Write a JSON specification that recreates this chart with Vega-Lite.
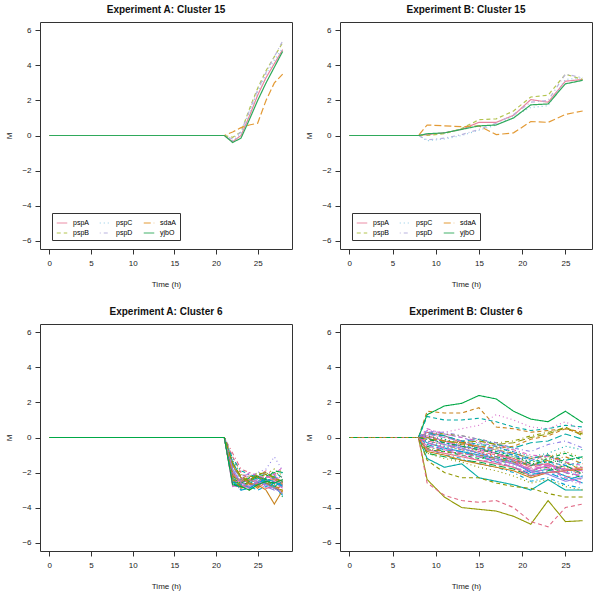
{
"$schema":"https://vega.github.io/schema/vega-lite/v6.json",
"padding":{"left":5,"top":4,"right":5,"bottom":5},
"background":"white",
"config":{
 "font":"Liberation Sans",
 "view":{"stroke":"#333","strokeWidth":1},
 "axis":{"domain":false,"grid":false,"tickColor":"#333","tickSize":5,"labelFontSize":8,"titleFontSize":8,"titleFontWeight":"normal","labelColor":"#222","titleColor":"#222","labelPadding":5},
 "axisX":{"titlePadding":13},
 "axisY":{"titlePadding":8,"labelPadding":4},
 "title":{"fontSize":10,"fontWeight":"bold","offset":7,"color":"#111"},
 "legend":{"labelFontSize":7}
},
"datasets":{
"tA":[
{"g":"pspA","t":0,"m":0},{"g":"pspA","t":21,"m":0},{"g":"pspA","t":22,"m":-0.35},{"g":"pspA","t":23,"m":0.0},{"g":"pspA","t":24,"m":1.1},{"g":"pspA","t":25,"m":2.3},{"g":"pspA","t":26,"m":3.3},{"g":"pspA","t":27,"m":4.1},{"g":"pspA","t":28,"m":4.9},
{"g":"pspB","t":0,"m":0},{"g":"pspB","t":21,"m":0},{"g":"pspB","t":22,"m":-0.1},{"g":"pspB","t":23,"m":0.2},{"g":"pspB","t":24,"m":1.5},{"g":"pspB","t":25,"m":2.7},{"g":"pspB","t":26,"m":3.7},{"g":"pspB","t":27,"m":4.5},{"g":"pspB","t":28,"m":5.3},
{"g":"pspC","t":0,"m":0},{"g":"pspC","t":21,"m":0},{"g":"pspC","t":22,"m":-0.3},{"g":"pspC","t":23,"m":0.1},{"g":"pspC","t":24,"m":1.3},{"g":"pspC","t":25,"m":2.5},{"g":"pspC","t":26,"m":3.5},{"g":"pspC","t":27,"m":4.3},{"g":"pspC","t":28,"m":5.0},
{"g":"pspD","t":0,"m":0},{"g":"pspD","t":21,"m":0},{"g":"pspD","t":22,"m":-0.2},{"g":"pspD","t":23,"m":0.2},{"g":"pspD","t":24,"m":1.4},{"g":"pspD","t":25,"m":2.6},{"g":"pspD","t":26,"m":3.6},{"g":"pspD","t":27,"m":4.5},{"g":"pspD","t":28,"m":5.4},
{"g":"sdaA","t":0,"m":0},{"g":"sdaA","t":21,"m":0},{"g":"sdaA","t":22,"m":0.2},{"g":"sdaA","t":23,"m":0.45},{"g":"sdaA","t":24,"m":0.6},{"g":"sdaA","t":25,"m":0.7},{"g":"sdaA","t":26,"m":2.0},{"g":"sdaA","t":27,"m":3.0},{"g":"sdaA","t":28,"m":3.5},
{"g":"yjbO","t":0,"m":0},{"g":"yjbO","t":21,"m":0},{"g":"yjbO","t":22,"m":-0.4},{"g":"yjbO","t":23,"m":-0.15},{"g":"yjbO","t":24,"m":0.9},{"g":"yjbO","t":25,"m":2.0},{"g":"yjbO","t":26,"m":3.0},{"g":"yjbO","t":27,"m":3.9},{"g":"yjbO","t":28,"m":4.8}
],
"tB":[
{"g":"pspA","t":0,"m":0},{"g":"pspA","t":8,"m":0},{"g":"pspA","t":9,"m":0.05},{"g":"pspA","t":11,"m":0.15},{"g":"pspA","t":13,"m":0.35},{"g":"pspA","t":15,"m":0.75},{"g":"pspA","t":17,"m":0.75},{"g":"pspA","t":19,"m":1.15},{"g":"pspA","t":21,"m":2.05},{"g":"pspA","t":23,"m":1.9},{"g":"pspA","t":25,"m":3.1},{"g":"pspA","t":27,"m":3.2},
{"g":"pspB","t":0,"m":0},{"g":"pspB","t":8,"m":0},{"g":"pspB","t":9,"m":0.0},{"g":"pspB","t":11,"m":0.1},{"g":"pspB","t":13,"m":0.4},{"g":"pspB","t":15,"m":0.9},{"g":"pspB","t":17,"m":0.95},{"g":"pspB","t":19,"m":1.4},{"g":"pspB","t":21,"m":2.2},{"g":"pspB","t":23,"m":2.3},{"g":"pspB","t":25,"m":3.5},{"g":"pspB","t":27,"m":3.2},
{"g":"pspC","t":0,"m":0},{"g":"pspC","t":8,"m":0},{"g":"pspC","t":9,"m":-0.3},{"g":"pspC","t":11,"m":-0.2},{"g":"pspC","t":13,"m":0.0},{"g":"pspC","t":15,"m":0.3},{"g":"pspC","t":17,"m":0.6},{"g":"pspC","t":19,"m":1.1},{"g":"pspC","t":21,"m":1.6},{"g":"pspC","t":23,"m":1.7},{"g":"pspC","t":25,"m":3.2},{"g":"pspC","t":27,"m":3.3},
{"g":"pspD","t":0,"m":0},{"g":"pspD","t":8,"m":0},{"g":"pspD","t":9,"m":-0.25},{"g":"pspD","t":11,"m":-0.15},{"g":"pspD","t":13,"m":0.05},{"g":"pspD","t":15,"m":0.35},{"g":"pspD","t":17,"m":0.7},{"g":"pspD","t":19,"m":1.2},{"g":"pspD","t":21,"m":1.9},{"g":"pspD","t":23,"m":2.0},{"g":"pspD","t":25,"m":3.5},{"g":"pspD","t":27,"m":3.3},
{"g":"sdaA","t":0,"m":0},{"g":"sdaA","t":8,"m":0},{"g":"sdaA","t":9,"m":0.6},{"g":"sdaA","t":11,"m":0.55},{"g":"sdaA","t":13,"m":0.5},{"g":"sdaA","t":15,"m":0.55},{"g":"sdaA","t":17,"m":0.05},{"g":"sdaA","t":19,"m":0.15},{"g":"sdaA","t":21,"m":0.8},{"g":"sdaA","t":23,"m":0.75},{"g":"sdaA","t":25,"m":1.2},{"g":"sdaA","t":27,"m":1.4},
{"g":"yjbO","t":0,"m":0},{"g":"yjbO","t":8,"m":0},{"g":"yjbO","t":9,"m":0.1},{"g":"yjbO","t":11,"m":0.15},{"g":"yjbO","t":13,"m":0.35},{"g":"yjbO","t":15,"m":0.55},{"g":"yjbO","t":17,"m":0.6},{"g":"yjbO","t":19,"m":1.0},{"g":"yjbO","t":21,"m":1.75},{"g":"yjbO","t":23,"m":1.8},{"g":"yjbO","t":25,"m":2.95},{"g":"yjbO","t":27,"m":3.15}
],
"bA":[
{"g":"a01","t":0,"m":0},{"g":"a01","t":21,"m":0},{"g":"a01","t":22,"m":-2.0},{"g":"a01","t":23,"m":-2.6},{"g":"a01","t":24,"m":-2.4},{"g":"a01","t":25,"m":-2.2},{"g":"a01","t":26,"m":-2.5},{"g":"a01","t":27,"m":-2.3},{"g":"a01","t":28,"m":-2.8},
{"g":"a02","t":0,"m":0},{"g":"a02","t":21,"m":0},{"g":"a02","t":22,"m":-2.4},{"g":"a02","t":23,"m":-2.9},{"g":"a02","t":24,"m":-2.7},{"g":"a02","t":25,"m":-2.5},{"g":"a02","t":26,"m":-2.6},{"g":"a02","t":27,"m":-2.9},{"g":"a02","t":28,"m":-3.1},
{"g":"a03","t":0,"m":0},{"g":"a03","t":21,"m":0},{"g":"a03","t":22,"m":-1.3},{"g":"a03","t":23,"m":-2.1},{"g":"a03","t":24,"m":-2.3},{"g":"a03","t":25,"m":-2.0},{"g":"a03","t":26,"m":-2.1},{"g":"a03","t":27,"m":-1.8},{"g":"a03","t":28,"m":-2.2},
{"g":"a04","t":0,"m":0},{"g":"a04","t":21,"m":0},{"g":"a04","t":22,"m":-2.6},{"g":"a04","t":23,"m":-2.8},{"g":"a04","t":24,"m":-2.5},{"g":"a04","t":25,"m":-2.7},{"g":"a04","t":26,"m":-2.3},{"g":"a04","t":27,"m":-2.6},{"g":"a04","t":28,"m":-2.4},
{"g":"a05","t":0,"m":0},{"g":"a05","t":21,"m":0},{"g":"a05","t":22,"m":-1.7},{"g":"a05","t":23,"m":-2.3},{"g":"a05","t":24,"m":-2.6},{"g":"a05","t":25,"m":-2.4},{"g":"a05","t":26,"m":-2.7},{"g":"a05","t":27,"m":-2.5},{"g":"a05","t":28,"m":-2.9},
{"g":"a06","t":0,"m":0},{"g":"a06","t":21,"m":0},{"g":"a06","t":22,"m":-2.2},{"g":"a06","t":23,"m":-2.5},{"g":"a06","t":24,"m":-2.9},{"g":"a06","t":25,"m":-2.6},{"g":"a06","t":26,"m":-2.4},{"g":"a06","t":27,"m":-2.8},{"g":"a06","t":28,"m":-3.3},
{"g":"a07","t":0,"m":0},{"g":"a07","t":21,"m":0},{"g":"a07","t":22,"m":-1.9},{"g":"a07","t":23,"m":-2.7},{"g":"a07","t":24,"m":-2.2},{"g":"a07","t":25,"m":-2.3},{"g":"a07","t":26,"m":-2.0},{"g":"a07","t":27,"m":-2.2},{"g":"a07","t":28,"m":-2.5},
{"g":"a08","t":0,"m":0},{"g":"a08","t":21,"m":0},{"g":"a08","t":22,"m":-2.5},{"g":"a08","t":23,"m":-3.0},{"g":"a08","t":24,"m":-2.8},{"g":"a08","t":25,"m":-2.6},{"g":"a08","t":26,"m":-2.9},{"g":"a08","t":27,"m":-2.7},{"g":"a08","t":28,"m":-2.6},
{"g":"a09","t":0,"m":0},{"g":"a09","t":21,"m":0},{"g":"a09","t":22,"m":-0.9},{"g":"a09","t":23,"m":-1.8},{"g":"a09","t":24,"m":-2.0},{"g":"a09","t":25,"m":-2.2},{"g":"a09","t":26,"m":-1.9},{"g":"a09","t":27,"m":-2.1},{"g":"a09","t":28,"m":-2.4},
{"g":"a10","t":0,"m":0},{"g":"a10","t":21,"m":0},{"g":"a10","t":22,"m":-2.3},{"g":"a10","t":23,"m":-2.4},{"g":"a10","t":24,"m":-2.6},{"g":"a10","t":25,"m":-2.9},{"g":"a10","t":26,"m":-2.5},{"g":"a10","t":27,"m":-2.4},{"g":"a10","t":28,"m":-2.7},
{"g":"a11","t":0,"m":0},{"g":"a11","t":21,"m":0},{"g":"a11","t":22,"m":-2.1},{"g":"a11","t":23,"m":-2.9},{"g":"a11","t":24,"m":-2.5},{"g":"a11","t":25,"m":-2.2},{"g":"a11","t":26,"m":-2.6},{"g":"a11","t":27,"m":-2.9},{"g":"a11","t":28,"m":-3.0},
{"g":"a12","t":0,"m":0},{"g":"a12","t":21,"m":0},{"g":"a12","t":22,"m":-2.7},{"g":"a12","t":23,"m":-2.6},{"g":"a12","t":24,"m":-2.3},{"g":"a12","t":25,"m":-2.1},{"g":"a12","t":26,"m":-2.2},{"g":"a12","t":27,"m":-2.0},{"g":"a12","t":28,"m":-2.3},
{"g":"a13","t":0,"m":0},{"g":"a13","t":21,"m":0},{"g":"a13","t":22,"m":-1.6},{"g":"a13","t":23,"m":-2.4},{"g":"a13","t":24,"m":-2.7},{"g":"a13","t":25,"m":-2.5},{"g":"a13","t":26,"m":-2.3},{"g":"a13","t":27,"m":-2.6},{"g":"a13","t":28,"m":-2.8},
{"g":"a14","t":0,"m":0},{"g":"a14","t":21,"m":0},{"g":"a14","t":22,"m":-2.4},{"g":"a14","t":23,"m":-3.0},{"g":"a14","t":24,"m":-2.6},{"g":"a14","t":25,"m":-2.8},{"g":"a14","t":26,"m":-2.6},{"g":"a14","t":27,"m":-2.3},{"g":"a14","t":28,"m":-2.1},
{"g":"a15","t":0,"m":0},{"g":"a15","t":21,"m":0},{"g":"a15","t":22,"m":-1.8},{"g":"a15","t":23,"m":-2.2},{"g":"a15","t":24,"m":-2.1},{"g":"a15","t":25,"m":-2.4},{"g":"a15","t":26,"m":-2.8},{"g":"a15","t":27,"m":-3.0},{"g":"a15","t":28,"m":-2.7},
{"g":"a16","t":0,"m":0},{"g":"a16","t":21,"m":0},{"g":"a16","t":22,"m":-2.8},{"g":"a16","t":23,"m":-2.7},{"g":"a16","t":24,"m":-2.9},{"g":"a16","t":25,"m":-2.5},{"g":"a16","t":26,"m":-2.7},{"g":"a16","t":27,"m":-2.5},{"g":"a16","t":28,"m":-2.9},
{"g":"a17","t":0,"m":0},{"g":"a17","t":21,"m":0},{"g":"a17","t":22,"m":-1.1},{"g":"a17","t":23,"m":-2.0},{"g":"a17","t":24,"m":-2.4},{"g":"a17","t":25,"m":-2.6},{"g":"a17","t":26,"m":-2.2},{"g":"a17","t":27,"m":-2.4},{"g":"a17","t":28,"m":-2.6},
{"g":"a18","t":0,"m":0},{"g":"a18","t":21,"m":0},{"g":"a18","t":22,"m":-2.5},{"g":"a18","t":23,"m":-2.3},{"g":"a18","t":24,"m":-2.2},{"g":"a18","t":25,"m":-2.4},{"g":"a18","t":26,"m":-2.1},{"g":"a18","t":27,"m":-2.2},{"g":"a18","t":28,"m":-1.8},
{"g":"a19","t":0,"m":0},{"g":"a19","t":21,"m":0},{"g":"a19","t":22,"m":-2.0},{"g":"a19","t":23,"m":-2.8},{"g":"a19","t":24,"m":-3.0},{"g":"a19","t":25,"m":-2.7},{"g":"a19","t":26,"m":-2.5},{"g":"a19","t":27,"m":-2.7},{"g":"a19","t":28,"m":-3.2},
{"g":"a20","t":0,"m":0},{"g":"a20","t":21,"m":0},{"g":"a20","t":22,"m":-2.6},{"g":"a20","t":23,"m":-2.5},{"g":"a20","t":24,"m":-2.4},{"g":"a20","t":25,"m":-2.2},{"g":"a20","t":26,"m":-2.4},{"g":"a20","t":27,"m":-1.9},{"g":"a20","t":28,"m":-2.0},
{"g":"a21","t":0,"m":0},{"g":"a21","t":21,"m":0},{"g":"a21","t":22,"m":-1.4},{"g":"a21","t":23,"m":-2.3},{"g":"a21","t":24,"m":-2.5},{"g":"a21","t":25,"m":-2.3},{"g":"a21","t":26,"m":-2.6},{"g":"a21","t":27,"m":-2.8},{"g":"a21","t":28,"m":-2.5},
{"g":"a22","t":0,"m":0},{"g":"a22","t":21,"m":0},{"g":"a22","t":22,"m":-2.3},{"g":"a22","t":23,"m":-2.7},{"g":"a22","t":24,"m":-2.8},{"g":"a22","t":25,"m":-3.0},{"g":"a22","t":26,"m":-2.8},{"g":"a22","t":27,"m":-2.6},{"g":"a22","t":28,"m":-2.7},
{"g":"a23","t":0,"m":0},{"g":"a23","t":21,"m":0},{"g":"a23","t":22,"m":-1.9},{"g":"a23","t":23,"m":-2.4},{"g":"a23","t":24,"m":-2.2},{"g":"a23","t":25,"m":-2.0},{"g":"a23","t":26,"m":-1.8},{"g":"a23","t":27,"m":-1.1},{"g":"a23","t":28,"m":-1.9},
{"g":"a24","t":0,"m":0},{"g":"a24","t":21,"m":0},{"g":"a24","t":22,"m":-2.7},{"g":"a24","t":23,"m":-2.9},{"g":"a24","t":24,"m":-2.6},{"g":"a24","t":25,"m":-2.4},{"g":"a24","t":26,"m":-2.5},{"g":"a24","t":27,"m":-2.4},{"g":"a24","t":28,"m":-2.2},
{"g":"a25","t":0,"m":0},{"g":"a25","t":21,"m":0},{"g":"a25","t":22,"m":-2.1},{"g":"a25","t":23,"m":-2.5},{"g":"a25","t":24,"m":-2.4},{"g":"a25","t":25,"m":-2.6},{"g":"a25","t":26,"m":-2.9},{"g":"a25","t":27,"m":-2.8},{"g":"a25","t":28,"m":-3.1},
{"g":"a26","t":0,"m":0},{"g":"a26","t":21,"m":0},{"g":"a26","t":22,"m":-1.6},{"g":"a26","t":23,"m":-2.3},{"g":"a26","t":24,"m":-2.6},{"g":"a26","t":25,"m":-2.7},{"g":"a26","t":26,"m":-3.0},{"g":"a26","t":27,"m":-3.8},{"g":"a26","t":28,"m":-3.0},
{"g":"a27","t":0,"m":0},{"g":"a27","t":21,"m":0},{"g":"a27","t":22,"m":-2.4},{"g":"a27","t":23,"m":-2.6},{"g":"a27","t":24,"m":-2.2},{"g":"a27","t":25,"m":-2.3},{"g":"a27","t":26,"m":-2.1},{"g":"a27","t":27,"m":-2.3},{"g":"a27","t":28,"m":-2.6},
{"g":"a28","t":0,"m":0},{"g":"a28","t":21,"m":0},{"g":"a28","t":22,"m":-2.2},{"g":"a28","t":23,"m":-2.8},{"g":"a28","t":24,"m":-2.5},{"g":"a28","t":25,"m":-2.2},{"g":"a28","t":26,"m":-2.4},{"g":"a28","t":27,"m":-2.7},{"g":"a28","t":28,"m":-3.4},
{"g":"a29","t":0,"m":0},{"g":"a29","t":21,"m":0},{"g":"a29","t":22,"m":-1.2},{"g":"a29","t":23,"m":-1.9},{"g":"a29","t":24,"m":-2.1},{"g":"a29","t":25,"m":-2.3},{"g":"a29","t":26,"m":-2.5},{"g":"a29","t":27,"m":-2.2},{"g":"a29","t":28,"m":-2.0},
{"g":"a30","t":0,"m":0},{"g":"a30","t":21,"m":0},{"g":"a30","t":22,"m":-2.5},{"g":"a30","t":23,"m":-3.0},{"g":"a30","t":24,"m":-2.9},{"g":"a30","t":25,"m":-2.6},{"g":"a30","t":26,"m":-2.4},{"g":"a30","t":27,"m":-2.5},{"g":"a30","t":28,"m":-2.8},
{"g":"a31","t":0,"m":0},{"g":"a31","t":21,"m":0},{"g":"a31","t":22,"m":-1.8},{"g":"a31","t":23,"m":-2.6},{"g":"a31","t":24,"m":-2.8},{"g":"a31","t":25,"m":-2.5},{"g":"a31","t":26,"m":-2.7},{"g":"a31","t":27,"m":-2.9},{"g":"a31","t":28,"m":-3.2},
{"g":"a32","t":0,"m":0},{"g":"a32","t":21,"m":0},{"g":"a32","t":22,"m":-2.6},{"g":"a32","t":23,"m":-2.4},{"g":"a32","t":24,"m":-2.0},{"g":"a32","t":25,"m":-2.2},{"g":"a32","t":26,"m":-2.3},{"g":"a32","t":27,"m":-2.1},{"g":"a32","t":28,"m":-1.7},
{"g":"a33","t":0,"m":0},{"g":"a33","t":21,"m":0},{"g":"a33","t":22,"m":-2.0},{"g":"a33","t":23,"m":-2.7},{"g":"a33","t":24,"m":-2.4},{"g":"a33","t":25,"m":-2.6},{"g":"a33","t":26,"m":-2.2},{"g":"a33","t":27,"m":-2.4},{"g":"a33","t":28,"m":-2.6},
{"g":"a34","t":0,"m":0},{"g":"a34","t":21,"m":0},{"g":"a34","t":22,"m":-2.3},{"g":"a34","t":23,"m":-2.9},{"g":"a34","t":24,"m":-2.6},{"g":"a34","t":25,"m":-2.8},{"g":"a34","t":26,"m":-2.6},{"g":"a34","t":27,"m":-2.8},{"g":"a34","t":28,"m":-2.9},
{"g":"a35","t":0,"m":0},{"g":"a35","t":21,"m":0},{"g":"a35","t":22,"m":-1.5},{"g":"a35","t":23,"m":-2.2},{"g":"a35","t":24,"m":-2.5},{"g":"a35","t":25,"m":-2.1},{"g":"a35","t":26,"m":-2.0},{"g":"a35","t":27,"m":-2.3},{"g":"a35","t":28,"m":-2.5},
{"g":"a36","t":0,"m":0},{"g":"a36","t":21,"m":0},{"g":"a36","t":22,"m":-2.7},{"g":"a36","t":23,"m":-2.8},{"g":"a36","t":24,"m":-3.0},{"g":"a36","t":25,"m":-2.7},{"g":"a36","t":26,"m":-2.5},{"g":"a36","t":27,"m":-2.6},{"g":"a36","t":28,"m":-2.4}
],
"bB":[
{"g":"b01","t":0,"m":0},{"g":"b01","t":8,"m":0},{"g":"b01","t":9,"m":0.3},{"g":"b01","t":11,"m":0.1},{"g":"b01","t":13,"m":-0.3},{"g":"b01","t":15,"m":-0.6},{"g":"b01","t":17,"m":-0.9},{"g":"b01","t":19,"m":-1.2},{"g":"b01","t":21,"m":-1.6},{"g":"b01","t":23,"m":-1.5},{"g":"b01","t":25,"m":-1.9},{"g":"b01","t":27,"m":-1.8},
{"g":"b02","t":0,"m":0},{"g":"b02","t":8,"m":0},{"g":"b02","t":9,"m":1.5},{"g":"b02","t":11,"m":1.4},{"g":"b02","t":13,"m":1.4},{"g":"b02","t":15,"m":1.7},{"g":"b02","t":17,"m":0.6},{"g":"b02","t":19,"m":0.5},{"g":"b02","t":21,"m":0.3},{"g":"b02","t":23,"m":0.4},{"g":"b02","t":25,"m":0.5},{"g":"b02","t":27,"m":0.3},
{"g":"b03","t":0,"m":0},{"g":"b03","t":8,"m":0},{"g":"b03","t":9,"m":-0.2},{"g":"b03","t":11,"m":-0.4},{"g":"b03","t":13,"m":-0.5},{"g":"b03","t":15,"m":-0.8},{"g":"b03","t":17,"m":-0.7},{"g":"b03","t":19,"m":-1.0},{"g":"b03","t":21,"m":-1.4},{"g":"b03","t":23,"m":-1.1},{"g":"b03","t":25,"m":-0.8},{"g":"b03","t":27,"m":-1.2},
{"g":"b04","t":0,"m":0},{"g":"b04","t":8,"m":0},{"g":"b04","t":9,"m":-0.5},{"g":"b04","t":11,"m":-0.8},{"g":"b04","t":13,"m":-0.9},{"g":"b04","t":15,"m":-1.1},{"g":"b04","t":17,"m":-1.3},{"g":"b04","t":19,"m":-1.5},{"g":"b04","t":21,"m":-1.9},{"g":"b04","t":23,"m":-1.7},{"g":"b04","t":25,"m":-2.0},{"g":"b04","t":27,"m":-2.3},
{"g":"b05","t":0,"m":0},{"g":"b05","t":8,"m":0},{"g":"b05","t":9,"m":0.2},{"g":"b05","t":11,"m":0.1},{"g":"b05","t":13,"m":-0.2},{"g":"b05","t":15,"m":-0.1},{"g":"b05","t":17,"m":-0.4},{"g":"b05","t":19,"m":-0.6},{"g":"b05","t":21,"m":-0.3},{"g":"b05","t":23,"m":-0.2},{"g":"b05","t":25,"m":0.2},{"g":"b05","t":27,"m":-0.1},
{"g":"b06","t":0,"m":0},{"g":"b06","t":8,"m":0},{"g":"b06","t":9,"m":-0.3},{"g":"b06","t":11,"m":-0.6},{"g":"b06","t":13,"m":-0.8},{"g":"b06","t":15,"m":-1.0},{"g":"b06","t":17,"m":-1.2},{"g":"b06","t":19,"m":-1.4},{"g":"b06","t":21,"m":-2.0},{"g":"b06","t":23,"m":-1.8},{"g":"b06","t":25,"m":-2.2},{"g":"b06","t":27,"m":-2.6},
{"g":"b07","t":0,"m":0},{"g":"b07","t":8,"m":0},{"g":"b07","t":9,"m":0.4},{"g":"b07","t":11,"m":0.2},{"g":"b07","t":13,"m":0.0},{"g":"b07","t":15,"m":-0.3},{"g":"b07","t":17,"m":-0.5},{"g":"b07","t":19,"m":-0.8},{"g":"b07","t":21,"m":-1.3},{"g":"b07","t":23,"m":-1.0},{"g":"b07","t":25,"m":-1.6},{"g":"b07","t":27,"m":-2.0},
{"g":"b08","t":0,"m":0},{"g":"b08","t":8,"m":0},{"g":"b08","t":9,"m":0.4},{"g":"b08","t":11,"m":0.3},{"g":"b08","t":13,"m":0.5},{"g":"b08","t":15,"m":0.7},{"g":"b08","t":17,"m":1.3},{"g":"b08","t":19,"m":1.0},{"g":"b08","t":21,"m":0.6},{"g":"b08","t":23,"m":0.5},{"g":"b08","t":25,"m":0.9},{"g":"b08","t":27,"m":0.4},
{"g":"b09","t":0,"m":0},{"g":"b09","t":8,"m":0},{"g":"b09","t":9,"m":-0.1},{"g":"b09","t":11,"m":-0.3},{"g":"b09","t":13,"m":-0.6},{"g":"b09","t":15,"m":-0.9},{"g":"b09","t":17,"m":-1.1},{"g":"b09","t":19,"m":-1.4},{"g":"b09","t":21,"m":-1.8},{"g":"b09","t":23,"m":-1.7},{"g":"b09","t":25,"m":-2.2},{"g":"b09","t":27,"m":-2.4},
{"g":"b10","t":0,"m":0},{"g":"b10","t":8,"m":0},{"g":"b10","t":9,"m":0.1},{"g":"b10","t":11,"m":-0.2},{"g":"b10","t":13,"m":-0.4},{"g":"b10","t":15,"m":-0.5},{"g":"b10","t":17,"m":-0.7},{"g":"b10","t":19,"m":-0.9},{"g":"b10","t":21,"m":-1.2},{"g":"b10","t":23,"m":-1.0},{"g":"b10","t":25,"m":-1.4},{"g":"b10","t":27,"m":-1.9},
{"g":"b11","t":0,"m":0},{"g":"b11","t":8,"m":0},{"g":"b11","t":9,"m":-2.4},{"g":"b11","t":11,"m":-3.4},{"g":"b11","t":13,"m":-4.0},{"g":"b11","t":15,"m":-4.1},{"g":"b11","t":17,"m":-4.2},{"g":"b11","t":19,"m":-4.5},{"g":"b11","t":21,"m":-4.95},{"g":"b11","t":23,"m":-3.6},{"g":"b11","t":25,"m":-4.8},{"g":"b11","t":27,"m":-4.75},
{"g":"b12","t":0,"m":0},{"g":"b12","t":8,"m":0},{"g":"b12","t":9,"m":-0.7},{"g":"b12","t":11,"m":-0.8},{"g":"b12","t":13,"m":-1.0},{"g":"b12","t":15,"m":-1.2},{"g":"b12","t":17,"m":-1.1},{"g":"b12","t":19,"m":-1.3},{"g":"b12","t":21,"m":-1.6},{"g":"b12","t":23,"m":-1.2},{"g":"b12","t":25,"m":-0.9},{"g":"b12","t":27,"m":-1.3},
{"g":"b13","t":0,"m":0},{"g":"b13","t":8,"m":0},{"g":"b13","t":9,"m":0.0},{"g":"b13","t":11,"m":-0.1},{"g":"b13","t":13,"m":-0.3},{"g":"b13","t":15,"m":-0.4},{"g":"b13","t":17,"m":-0.6},{"g":"b13","t":19,"m":-0.8},{"g":"b13","t":21,"m":-1.1},{"g":"b13","t":23,"m":-0.9},{"g":"b13","t":25,"m":-0.5},{"g":"b13","t":27,"m":-0.7},
{"g":"b14","t":0,"m":0},{"g":"b14","t":8,"m":0},{"g":"b14","t":9,"m":-0.6},{"g":"b14","t":11,"m":-1.0},{"g":"b14","t":13,"m":-1.2},{"g":"b14","t":15,"m":-1.5},{"g":"b14","t":17,"m":-1.7},{"g":"b14","t":19,"m":-2.0},{"g":"b14","t":21,"m":-2.5},{"g":"b14","t":23,"m":-2.3},{"g":"b14","t":25,"m":-2.7},{"g":"b14","t":27,"m":-2.9},
{"g":"b15","t":0,"m":0},{"g":"b15","t":8,"m":0},{"g":"b15","t":9,"m":0.2},{"g":"b15","t":11,"m":0.0},{"g":"b15","t":13,"m":-0.2},{"g":"b15","t":15,"m":-0.5},{"g":"b15","t":17,"m":-0.7},{"g":"b15","t":19,"m":-1.0},{"g":"b15","t":21,"m":-1.5},{"g":"b15","t":23,"m":-1.6},{"g":"b15","t":25,"m":-2.0},{"g":"b15","t":27,"m":-2.2},
{"g":"b16","t":0,"m":0},{"g":"b16","t":8,"m":0},{"g":"b16","t":9,"m":0.1},{"g":"b16","t":11,"m":-0.2},{"g":"b16","t":13,"m":-0.5},{"g":"b16","t":15,"m":-0.7},{"g":"b16","t":17,"m":-0.9},{"g":"b16","t":19,"m":-1.3},{"g":"b16","t":21,"m":-1.9},{"g":"b16","t":23,"m":-1.6},{"g":"b16","t":25,"m":-1.8},{"g":"b16","t":27,"m":-1.9},
{"g":"b17","t":0,"m":0},{"g":"b17","t":8,"m":0},{"g":"b17","t":9,"m":-2.6},{"g":"b17","t":11,"m":-3.3},{"g":"b17","t":13,"m":-3.6},{"g":"b17","t":15,"m":-3.7},{"g":"b17","t":17,"m":-3.6},{"g":"b17","t":19,"m":-4.0},{"g":"b17","t":21,"m":-4.8},{"g":"b17","t":23,"m":-5.1},{"g":"b17","t":25,"m":-4.0},{"g":"b17","t":27,"m":-3.8},
{"g":"b18","t":0,"m":0},{"g":"b18","t":8,"m":0},{"g":"b18","t":9,"m":-0.4},{"g":"b18","t":11,"m":-0.5},{"g":"b18","t":13,"m":-0.7},{"g":"b18","t":15,"m":-0.9},{"g":"b18","t":17,"m":-1.0},{"g":"b18","t":19,"m":-1.2},{"g":"b18","t":21,"m":-1.5},{"g":"b18","t":23,"m":-1.3},{"g":"b18","t":25,"m":-1.7},{"g":"b18","t":27,"m":-2.0},
{"g":"b19","t":0,"m":0},{"g":"b19","t":8,"m":0},{"g":"b19","t":9,"m":0.3},{"g":"b19","t":11,"m":0.2},{"g":"b19","t":13,"m":0.1},{"g":"b19","t":15,"m":-0.1},{"g":"b19","t":17,"m":-0.3},{"g":"b19","t":19,"m":-0.2},{"g":"b19","t":21,"m":0.1},{"g":"b19","t":23,"m":0.3},{"g":"b19","t":25,"m":0.5},{"g":"b19","t":27,"m":0.2},
{"g":"b20","t":0,"m":0},{"g":"b20","t":8,"m":0},{"g":"b20","t":9,"m":-0.9},{"g":"b20","t":11,"m":-1.1},{"g":"b20","t":13,"m":-1.3},{"g":"b20","t":15,"m":-1.4},{"g":"b20","t":17,"m":-1.6},{"g":"b20","t":19,"m":-1.8},{"g":"b20","t":21,"m":-2.2},{"g":"b20","t":23,"m":-1.9},{"g":"b20","t":25,"m":-1.6},{"g":"b20","t":27,"m":-2.1},
{"g":"b21","t":0,"m":0},{"g":"b21","t":8,"m":0},{"g":"b21","t":9,"m":-1.2},{"g":"b21","t":11,"m":-1.7},{"g":"b21","t":13,"m":-1.5},{"g":"b21","t":15,"m":-2.3},{"g":"b21","t":17,"m":-2.5},{"g":"b21","t":19,"m":-2.7},{"g":"b21","t":21,"m":-3.0},{"g":"b21","t":23,"m":-2.4},{"g":"b21","t":25,"m":-3.0},{"g":"b21","t":27,"m":-3.0},
{"g":"b22","t":0,"m":0},{"g":"b22","t":8,"m":0},{"g":"b22","t":9,"m":0.0},{"g":"b22","t":11,"m":-0.3},{"g":"b22","t":13,"m":-0.5},{"g":"b22","t":15,"m":-0.6},{"g":"b22","t":17,"m":-0.8},{"g":"b22","t":19,"m":-1.0},{"g":"b22","t":21,"m":-1.3},{"g":"b22","t":23,"m":-1.4},{"g":"b22","t":25,"m":-1.6},{"g":"b22","t":27,"m":-1.4},
{"g":"b23","t":0,"m":0},{"g":"b23","t":8,"m":0},{"g":"b23","t":9,"m":-0.3},{"g":"b23","t":11,"m":-0.5},{"g":"b23","t":13,"m":-0.9},{"g":"b23","t":15,"m":-1.0},{"g":"b23","t":17,"m":-1.3},{"g":"b23","t":19,"m":-1.6},{"g":"b23","t":21,"m":-2.1},{"g":"b23","t":23,"m":-1.9},{"g":"b23","t":25,"m":-2.4},{"g":"b23","t":27,"m":-2.7},
{"g":"b24","t":0,"m":0},{"g":"b24","t":8,"m":0},{"g":"b24","t":9,"m":0.5},{"g":"b24","t":11,"m":0.2},{"g":"b24","t":13,"m":0.0},{"g":"b24","t":15,"m":-0.2},{"g":"b24","t":17,"m":-0.4},{"g":"b24","t":19,"m":-0.7},{"g":"b24","t":21,"m":-1.0},{"g":"b24","t":23,"m":-1.1},{"g":"b24","t":25,"m":-1.4},{"g":"b24","t":27,"m":-1.6},
{"g":"b25","t":0,"m":0},{"g":"b25","t":8,"m":0},{"g":"b25","t":9,"m":-0.2},{"g":"b25","t":11,"m":-0.4},{"g":"b25","t":13,"m":-0.7},{"g":"b25","t":15,"m":-0.8},{"g":"b25","t":17,"m":-1.0},{"g":"b25","t":19,"m":-1.3},{"g":"b25","t":21,"m":-1.7},{"g":"b25","t":23,"m":-1.5},{"g":"b25","t":25,"m":-1.8},{"g":"b25","t":27,"m":-2.1},
{"g":"b26","t":0,"m":0},{"g":"b26","t":8,"m":0},{"g":"b26","t":9,"m":-0.8},{"g":"b26","t":11,"m":-1.0},{"g":"b26","t":13,"m":-1.3},{"g":"b26","t":15,"m":-1.5},{"g":"b26","t":17,"m":-1.7},{"g":"b26","t":19,"m":-1.9},{"g":"b26","t":21,"m":-2.3},{"g":"b26","t":23,"m":-2.0},{"g":"b26","t":25,"m":-1.9},{"g":"b26","t":27,"m":-1.8},
{"g":"b27","t":0,"m":0},{"g":"b27","t":8,"m":0},{"g":"b27","t":9,"m":-1.3},{"g":"b27","t":11,"m":-2.0},{"g":"b27","t":13,"m":-2.3},{"g":"b27","t":15,"m":-2.3},{"g":"b27","t":17,"m":-2.6},{"g":"b27","t":19,"m":-2.8},{"g":"b27","t":21,"m":-2.9},{"g":"b27","t":23,"m":-3.2},{"g":"b27","t":25,"m":-3.4},{"g":"b27","t":27,"m":-3.4},
{"g":"b28","t":0,"m":0},{"g":"b28","t":8,"m":0},{"g":"b28","t":9,"m":0.1},{"g":"b28","t":11,"m":-0.1},{"g":"b28","t":13,"m":-0.4},{"g":"b28","t":15,"m":-0.6},{"g":"b28","t":17,"m":-0.8},{"g":"b28","t":19,"m":-1.1},{"g":"b28","t":21,"m":-1.4},{"g":"b28","t":23,"m":-1.2},{"g":"b28","t":25,"m":-1.5},{"g":"b28","t":27,"m":-1.7},
{"g":"b29","t":0,"m":0},{"g":"b29","t":8,"m":0},{"g":"b29","t":9,"m":0.3},{"g":"b29","t":11,"m":0.1},{"g":"b29","t":13,"m":-0.2},{"g":"b29","t":15,"m":-0.4},{"g":"b29","t":17,"m":-0.5},{"g":"b29","t":19,"m":-0.9},{"g":"b29","t":21,"m":-1.2},{"g":"b29","t":23,"m":-1.0},{"g":"b29","t":25,"m":-1.3},{"g":"b29","t":27,"m":-1.1},
{"g":"b30","t":0,"m":0},{"g":"b30","t":8,"m":0},{"g":"b30","t":9,"m":-0.4},{"g":"b30","t":11,"m":-0.7},{"g":"b30","t":13,"m":-0.8},{"g":"b30","t":15,"m":-1.1},{"g":"b30","t":17,"m":-1.4},{"g":"b30","t":19,"m":-1.7},{"g":"b30","t":21,"m":-2.1},{"g":"b30","t":23,"m":-2.0},{"g":"b30","t":25,"m":-2.4},{"g":"b30","t":27,"m":-2.2},
{"g":"b31","t":0,"m":0},{"g":"b31","t":8,"m":0},{"g":"b31","t":9,"m":0.0},{"g":"b31","t":11,"m":-0.4},{"g":"b31","t":13,"m":-0.6},{"g":"b31","t":15,"m":-0.9},{"g":"b31","t":17,"m":-1.2},{"g":"b31","t":19,"m":-1.5},{"g":"b31","t":21,"m":-1.9},{"g":"b31","t":23,"m":-2.1},{"g":"b31","t":25,"m":-2.5},{"g":"b31","t":27,"m":-2.3},
{"g":"b32","t":0,"m":0},{"g":"b32","t":8,"m":0},{"g":"b32","t":9,"m":-0.5},{"g":"b32","t":11,"m":-0.7},{"g":"b32","t":13,"m":-1.0},{"g":"b32","t":15,"m":-1.3},{"g":"b32","t":17,"m":-1.4},{"g":"b32","t":19,"m":-1.7},{"g":"b32","t":21,"m":-2.0},{"g":"b32","t":23,"m":-1.8},{"g":"b32","t":25,"m":-2.3},{"g":"b32","t":27,"m":-2.6},
{"g":"b33","t":0,"m":0},{"g":"b33","t":8,"m":0},{"g":"b33","t":9,"m":0.2},{"g":"b33","t":11,"m":0.0},{"g":"b33","t":13,"m":-0.2},{"g":"b33","t":15,"m":-0.3},{"g":"b33","t":17,"m":-0.5},{"g":"b33","t":19,"m":-0.7},{"g":"b33","t":21,"m":-1.1},{"g":"b33","t":23,"m":-1.3},{"g":"b33","t":25,"m":-1.7},{"g":"b33","t":27,"m":-1.9},
{"g":"b34","t":0,"m":0},{"g":"b34","t":8,"m":0},{"g":"b34","t":9,"m":-0.6},{"g":"b34","t":11,"m":-0.8},{"g":"b34","t":13,"m":-0.9},{"g":"b34","t":15,"m":-1.0},{"g":"b34","t":17,"m":-1.2},{"g":"b34","t":19,"m":-1.4},{"g":"b34","t":21,"m":-1.6},{"g":"b34","t":23,"m":-1.3},{"g":"b34","t":25,"m":-1.1},{"g":"b34","t":27,"m":-1.5},
{"g":"b35","t":0,"m":0},{"g":"b35","t":8,"m":0},{"g":"b35","t":9,"m":-0.1},{"g":"b35","t":11,"m":-0.2},{"g":"b35","t":13,"m":-0.3},{"g":"b35","t":15,"m":-0.2},{"g":"b35","t":17,"m":-0.4},{"g":"b35","t":19,"m":-0.3},{"g":"b35","t":21,"m":0.0},{"g":"b35","t":23,"m":0.2},{"g":"b35","t":25,"m":0.6},{"g":"b35","t":27,"m":0.1},
{"g":"b36","t":0,"m":0},{"g":"b36","t":8,"m":0},{"g":"b36","t":9,"m":1.3},{"g":"b36","t":11,"m":1.8},{"g":"b36","t":13,"m":1.95},{"g":"b36","t":15,"m":2.4},{"g":"b36","t":17,"m":2.2},{"g":"b36","t":19,"m":1.5},{"g":"b36","t":21,"m":1.05},{"g":"b36","t":23,"m":0.9},{"g":"b36","t":25,"m":1.5},{"g":"b36","t":27,"m":0.85},
{"g":"b37","t":0,"m":0},{"g":"b37","t":8,"m":0},{"g":"b37","t":9,"m":1.2},{"g":"b37","t":11,"m":1.0},{"g":"b37","t":13,"m":1.0},{"g":"b37","t":15,"m":1.1},{"g":"b37","t":17,"m":0.9},{"g":"b37","t":19,"m":0.6},{"g":"b37","t":21,"m":0.4},{"g":"b37","t":23,"m":0.5},{"g":"b37","t":25,"m":0.7},{"g":"b37","t":27,"m":0.6},
{"g":"b38","t":0,"m":0},{"g":"b38","t":8,"m":0},{"g":"b38","t":9,"m":-0.2},{"g":"b38","t":11,"m":-0.5},{"g":"b38","t":13,"m":-0.7},{"g":"b38","t":15,"m":-0.9},{"g":"b38","t":17,"m":-1.1},{"g":"b38","t":19,"m":-1.3},{"g":"b38","t":21,"m":-1.6},{"g":"b38","t":23,"m":-1.4},{"g":"b38","t":25,"m":-1.9},{"g":"b38","t":27,"m":-2.1},
{"g":"b39","t":0,"m":0},{"g":"b39","t":8,"m":0},{"g":"b39","t":9,"m":0.3},{"g":"b39","t":11,"m":0.3},{"g":"b39","t":13,"m":0.1},{"g":"b39","t":15,"m":-0.1},{"g":"b39","t":17,"m":-0.3},{"g":"b39","t":19,"m":-0.6},{"g":"b39","t":21,"m":-0.8},{"g":"b39","t":23,"m":-0.4},{"g":"b39","t":25,"m":-0.2},{"g":"b39","t":27,"m":-0.6},
{"g":"b40","t":0,"m":0},{"g":"b40","t":8,"m":0},{"g":"b40","t":9,"m":-0.3},{"g":"b40","t":11,"m":-0.6},{"g":"b40","t":13,"m":-0.9},{"g":"b40","t":15,"m":-1.1},{"g":"b40","t":17,"m":-1.3},{"g":"b40","t":19,"m":-1.5},{"g":"b40","t":21,"m":-1.8},{"g":"b40","t":23,"m":-1.6},{"g":"b40","t":25,"m":-2.0},{"g":"b40","t":27,"m":-2.2},
{"g":"b41","t":0,"m":0},{"g":"b41","t":8,"m":0},{"g":"b41","t":9,"m":-0.7},{"g":"b41","t":11,"m":-0.9},{"g":"b41","t":13,"m":-1.1},{"g":"b41","t":15,"m":-1.3},{"g":"b41","t":17,"m":-1.5},{"g":"b41","t":19,"m":-1.7},{"g":"b41","t":21,"m":-2.2},{"g":"b41","t":23,"m":-2.0},{"g":"b41","t":25,"m":-1.9},{"g":"b41","t":27,"m":-1.7},
{"g":"b42","t":0,"m":0},{"g":"b42","t":8,"m":0},{"g":"b42","t":9,"m":0.0},{"g":"b42","t":11,"m":-0.2},{"g":"b42","t":13,"m":-0.3},{"g":"b42","t":15,"m":-0.5},{"g":"b42","t":17,"m":-0.6},{"g":"b42","t":19,"m":-0.5},{"g":"b42","t":21,"m":-0.1},{"g":"b42","t":23,"m":0.1},{"g":"b42","t":25,"m":0.5},{"g":"b42","t":27,"m":0.2},
{"g":"b43","t":0,"m":0},{"g":"b43","t":8,"m":0},{"g":"b43","t":9,"m":-0.9},{"g":"b43","t":11,"m":-1.2},{"g":"b43","t":13,"m":-1.4},{"g":"b43","t":15,"m":-1.7},{"g":"b43","t":17,"m":-1.9},{"g":"b43","t":19,"m":-2.2},{"g":"b43","t":21,"m":-2.6},{"g":"b43","t":23,"m":-2.4},{"g":"b43","t":25,"m":-2.8},{"g":"b43","t":27,"m":-3.0},
{"g":"b44","t":0,"m":0},{"g":"b44","t":8,"m":0},{"g":"b44","t":9,"m":-0.1},{"g":"b44","t":11,"m":-0.3},{"g":"b44","t":13,"m":-0.5},{"g":"b44","t":15,"m":-0.7},{"g":"b44","t":17,"m":-0.9},{"g":"b44","t":19,"m":-1.1},{"g":"b44","t":21,"m":-1.5},{"g":"b44","t":23,"m":-1.4},{"g":"b44","t":25,"m":-1.3},{"g":"b44","t":27,"m":-1.1}
]
},
"spacing":17,
"resolve":{"scale":{"x":"independent","y":"independent","color":"independent","strokeDash":"independent"},"legend":{"color":"independent","strokeDash":"independent"}},
"vconcat":[
{"hconcat":[
{"title":"Experiment A: Cluster 15","width":252,"height":227,"data":{"name":"tA"},"mark":{"type":"line","strokeWidth":1.2},
 "encoding":{
  "x":{"field":"t","type":"quantitative","scale":{"domain":[-1.12,29.12],"nice":false,"zero":false},"axis":{"values":[0,5,10,15,20,25],"title":"Time (h)"}},
  "y":{"field":"m","type":"quantitative","scale":{"domain":[-6.48,6.48],"nice":false,"zero":false},"axis":{"values":[-6,-4,-2,0,2,4,6],"title":"M"}},
  "color":{"field":"g","type":"nominal","scale":{"domain":["pspA","pspB","pspC","pspD","sdaA","yjbO"],"range":["#E8829E","#B3C44F","#8EC9E3","#B9B3DE","#E39A35","#2FA95B"]},"legend":{"orient":"none","legendX":12,"legendY":191,"columns":3,"title":null,"strokeColor":"#333","fillColor":"white","padding":4,"columnPadding":8,"rowPadding":1,"labelOffset":5,"symbolType":"stroke","symbolSize":110,"symbolStrokeWidth":1}},
  "strokeDash":{"field":"g","type":"nominal","scale":{"domain":["pspA","pspB","pspC","pspD","sdaA","yjbO"],"range":[[1,0],[4,3],[1,3],[1,3,4,3],[7,3],[1,0]]},"legend":{"orient":"none","legendX":12,"legendY":191,"columns":3,"title":null,"strokeColor":"#333","fillColor":"white","padding":4,"columnPadding":8,"rowPadding":1,"labelOffset":5,"symbolType":"stroke","symbolSize":110,"symbolStrokeWidth":1}}
 }},
{"title":"Experiment B: Cluster 15","width":252,"height":227,"data":{"name":"tB"},"mark":{"type":"line","strokeWidth":1.2},
 "encoding":{
  "x":{"field":"t","type":"quantitative","scale":{"domain":[-1.08,28.08],"nice":false,"zero":false},"axis":{"values":[0,5,10,15,20,25],"title":"Time (h)"}},
  "y":{"field":"m","type":"quantitative","scale":{"domain":[-6.48,6.48],"nice":false,"zero":false},"axis":{"values":[-6,-4,-2,0,2,4,6],"title":"M"}},
  "color":{"field":"g","type":"nominal","scale":{"domain":["pspA","pspB","pspC","pspD","sdaA","yjbO"],"range":["#E8829E","#B3C44F","#8EC9E3","#B9B3DE","#E39A35","#2FA95B"]},"legend":{"orient":"none","legendX":12,"legendY":191,"columns":3,"title":null,"strokeColor":"#333","fillColor":"white","padding":4,"columnPadding":8,"rowPadding":1,"labelOffset":5,"symbolType":"stroke","symbolSize":110,"symbolStrokeWidth":1}},
  "strokeDash":{"field":"g","type":"nominal","scale":{"domain":["pspA","pspB","pspC","pspD","sdaA","yjbO"],"range":[[1,0],[4,3],[1,3],[1,3,4,3],[7,3],[1,0]]},"legend":{"orient":"none","legendX":12,"legendY":191,"columns":3,"title":null,"strokeColor":"#333","fillColor":"white","padding":4,"columnPadding":8,"rowPadding":1,"labelOffset":5,"symbolType":"stroke","symbolSize":110,"symbolStrokeWidth":1}}
 }}
],"spacing":12,"resolve":{"scale":{"x":"independent","y":"independent","color":"independent","strokeDash":"independent"},"legend":{"color":"independent","strokeDash":"independent"}}},
{"hconcat":[
{"title":"Experiment A: Cluster 6","width":252,"height":227,"data":{"name":"bA"},"mark":{"type":"line","strokeWidth":1.1},
 "encoding":{
  "x":{"field":"t","type":"quantitative","scale":{"domain":[-1.12,29.12],"nice":false,"zero":false},"axis":{"values":[0,5,10,15,20,25],"title":"Time (h)"}},
  "y":{"field":"m","type":"quantitative","scale":{"domain":[-6.48,6.48],"nice":false,"zero":false},"axis":{"values":[-6,-4,-2,0,2,4,6],"title":"M"}},
  "color":{"field":"g","type":"nominal","scale":{"range":["#E16A86","#C7821C","#909800","#00A846","#00A9A4","#00A2D3","#9183E6","#D766C9"]},"legend":null},
  "strokeDash":{"field":"g","type":"nominal","scale":{"range":[[1,0],[4,3],[1,3],[1,3,4,3],[7,3]]},"legend":null}
 }},
{"title":"Experiment B: Cluster 6","width":252,"height":227,"data":{"name":"bB"},"mark":{"type":"line","strokeWidth":1.1},
 "encoding":{
  "x":{"field":"t","type":"quantitative","scale":{"domain":[-1.08,28.08],"nice":false,"zero":false},"axis":{"values":[0,5,10,15,20,25],"title":"Time (h)"}},
  "y":{"field":"m","type":"quantitative","scale":{"domain":[-6.48,6.48],"nice":false,"zero":false},"axis":{"values":[-6,-4,-2,0,2,4,6],"title":"M"}},
  "color":{"field":"g","type":"nominal","scale":{"range":["#E16A86","#C7821C","#909800","#00A846","#00A9A4","#00A2D3","#9183E6","#D766C9"]},"legend":null},
  "strokeDash":{"field":"g","type":"nominal","scale":{"range":[[1,0],[4,3],[1,3],[1,3,4,3],[7,3]]},"legend":null}
 }}
],"spacing":12,"resolve":{"scale":{"x":"independent","y":"independent","color":"independent","strokeDash":"independent"},"legend":{"color":"independent","strokeDash":"independent"}}}
]
}
